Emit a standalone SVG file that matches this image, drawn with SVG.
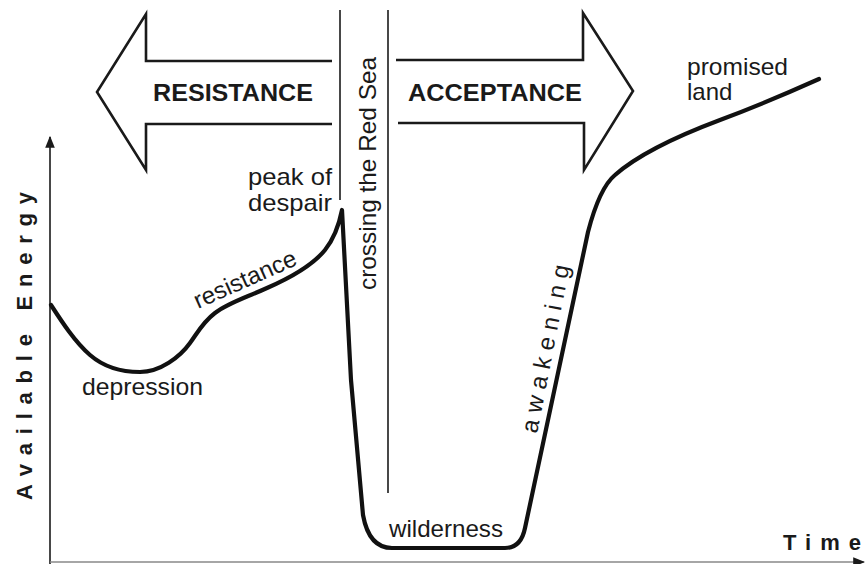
<svg xmlns="http://www.w3.org/2000/svg" width="866" height="564" viewBox="0 0 866 564">
<style>
.lbl{font-family:"Liberation Sans",Arial,sans-serif;font-size:24px;fill:#1a1a1a}
.big{font-family:"Liberation Sans",Arial,sans-serif;font-size:24px;font-weight:bold;fill:#1a1a1a}
.ax{font-family:"Liberation Sans",Arial,sans-serif;font-size:22px;font-weight:bold;fill:#1a1a1a}
.arrow{fill:none;stroke:#1a1a1a;stroke-width:2.6;stroke-linejoin:miter}
.thin{fill:none;stroke:#1a1a1a;stroke-width:1.6}
.curve{fill:none;stroke:#111;stroke-width:4.2;stroke-linejoin:round;stroke-linecap:round}
</style>
<defs>
<marker id="ah2" viewBox="0 0 10 10" refX="9" refY="5" markerWidth="12" markerHeight="12" markerUnits="userSpaceOnUse" orient="auto">
<path d="M0,1 L10,5 L0,9 z" fill="#1a1a1a"/>
</marker>
</defs>
<rect width="866" height="564" fill="#fff"/>
<g id="connectors">
<line id="y-axis" class="thin" x1="50" y1="564" x2="50" y2="137" marker-end="url(#ah2)"/>
<line id="x-axis" x1="50" y1="562" x2="864" y2="562" stroke="#888" stroke-width="1.4" marker-end="url(#ah2)"/>
<line id="divider-left" class="thin" x1="340" y1="10" x2="340" y2="200"/>
<line id="divider-right" class="thin" x1="388" y1="10" x2="388" y2="493"/>
<path id="energy-curve" class="curve" d="M51,305 C62,322 75,342 90,355 C105,368 122,372 140,372 C160,372 180,357 190,343 C198,332 203,322 215,313 C228,303 245,298 267,288 C290,278 312,266 325,250 C333,240 339,225 342,210 L351,380 L363,515 Q369,548 392,548 L505,548 Q521,548 525,528 L588,232 C595,205 603,185 615,175 C640,153 680,135 720,120 C760,105 790,92 819,79"/>
</g>
<g id="resistance-arrow">
<polyline class="arrow" points="332,61 146,61 146,14 97,92 146,170 146,124 332,124"/>
<text class="big" x="233" y="101" text-anchor="middle" textLength="160" lengthAdjust="spacingAndGlyphs">RESISTANCE</text>
</g>
<g id="acceptance-arrow">
<polyline class="arrow" points="396,60 583,60 583,13 633,91 584,170 584,123 398,123"/>
<text class="big" x="495" y="101" text-anchor="middle" textLength="174" lengthAdjust="spacingAndGlyphs">ACCEPTANCE</text>
</g>
<g id="crossing">
<text class="lbl" transform="translate(376,290) rotate(-90)" textLength="233" lengthAdjust="spacingAndGlyphs">crossing the Red Sea</text>
</g>
<g id="peak">
<text class="lbl" font-size="21" x="248" y="185" textLength="84" lengthAdjust="spacingAndGlyphs">peak of</text>
<text class="lbl" font-size="21" x="248" y="211" textLength="84" lengthAdjust="spacingAndGlyphs">despair</text>
</g>
<g id="resistance">
<text class="lbl" transform="translate(198,309) rotate(-24)" textLength="110" lengthAdjust="spacingAndGlyphs">resistance</text>
</g>
<g id="depression">
<text class="lbl" x="82" y="395" textLength="121" lengthAdjust="spacingAndGlyphs">depression</text>
</g>
<g id="wilderness">
<text class="lbl" x="389" y="537" textLength="114" lengthAdjust="spacingAndGlyphs">wilderness</text>
</g>
<g id="awakening">
<text class="lbl" font-size="22" transform="translate(537,434) rotate(-79)" letter-spacing="7">awakening</text>
</g>
<g id="promised-land">
<text class="lbl" x="687" y="75" textLength="101" lengthAdjust="spacingAndGlyphs">promised</text>
<text class="lbl" x="687" y="100">land</text>
</g>
<g id="axis-labels">
<text class="ax" transform="translate(32,500) rotate(-90)" textLength="308" lengthAdjust="spacing">Available Energy</text>
<text class="ax" x="783" y="550" textLength="78" lengthAdjust="spacing">Time</text>
</g>
</svg>
